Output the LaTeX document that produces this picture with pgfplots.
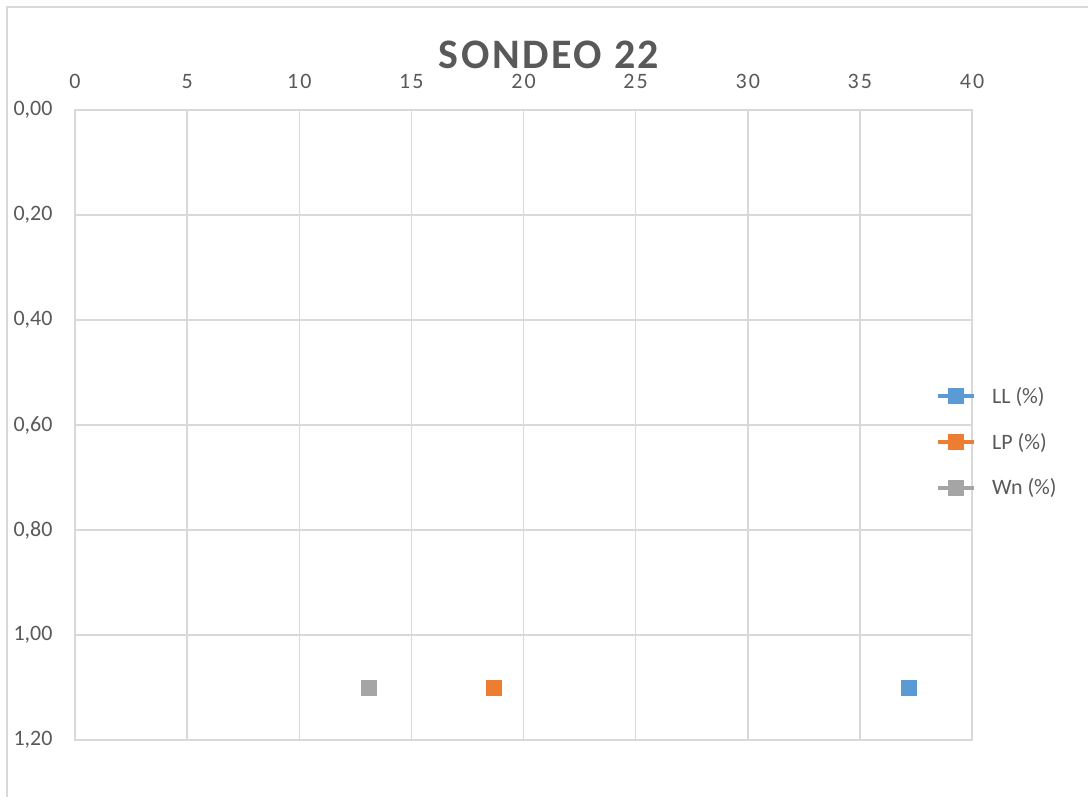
\documentclass[border=0pt]{standalone}
\usepackage{fontspec}
\setmainfont{Carlito}
\usepackage{pgfplots}
\pgfplotsset{compat=1.18}
\definecolor{llblue}{HTML}{5B9BD5}
\definecolor{lporange}{HTML}{ED7D31}
\definecolor{wngray}{HTML}{A5A5A5}
\definecolor{gridgray}{HTML}{D9D9D9}
\definecolor{textgray}{HTML}{595959}
\begin{document}
\begin{tikzpicture}[x=1pt,y=1pt]
\useasboundingbox (0,0) rectangle (1088,-797);
\draw[color=gridgray, line width=1.5pt] (7,-797) -- (7,-7) -- (1088,-7);
\node[font=\fontsize{42}{50}\selectfont\bfseries\addfontfeatures{LetterSpace=6}, text=textgray] at (549,-55) {SONDEO 22};
\begin{axis}[
    at={(75pt,-740pt)}, anchor=south west,
    width=897pt, height=630pt, scale only axis,
    xmin=0, xmax=40, ymin=0, ymax=1.2,
    y dir=reverse,
    xtick={0,5,10,15,20,25,30,35,40},
    ytick={0,0.2,0.4,0.6,0.8,1.0,1.2},
    xticklabel pos=right,
    grid=major,
    major grid style={color=gridgray, line width=1.5pt},
    axis line style={color=gridgray, line width=1.5pt},
    major tick length=0pt,
    /pgf/number format/assume math mode=true,
    yticklabel style={/pgf/number format/fixed, /pgf/number format/fixed zerofill,
        /pgf/number format/precision=2, /pgf/number format/use comma},
    yticklabel style={anchor=west, xshift=-65pt, font=\fontsize{22}{26}\selectfont, text=textgray},
    xticklabel style={font=\fontsize{22}{26}\selectfont\addfontfeatures{LetterSpace=10}, text=textgray, yshift=18pt},
    legend style={at={(0.962,0.473)}, anchor=west, draw=none, fill=none, inner sep=0pt,
        font=\fontsize{22}{26}\selectfont, text=textgray, row sep=24pt, column sep=16pt},
    legend cell align=left,
    legend image code/.code={
        \fill[#1, mark=none, draw=none] (0pt,-2pt) rectangle (36pt,2pt);
        \path[#1] plot coordinates {(18pt,0pt)};},
    every axis plot/.append style={line width=3.5pt, mark=square*, mark size=7.5pt, mark options={line width=0pt}},
]
\addplot[color=llblue] coordinates {(37.2,1.1)};
\addlegendentry{LL (\%)}
\addplot[color=lporange] coordinates {(18.7,1.1)};
\addlegendentry{LP (\%)}
\addplot[color=wngray] coordinates {(13.1,1.1)};
\addlegendentry{Wn (\%)}
\end{axis}
\end{tikzpicture}
\end{document}
